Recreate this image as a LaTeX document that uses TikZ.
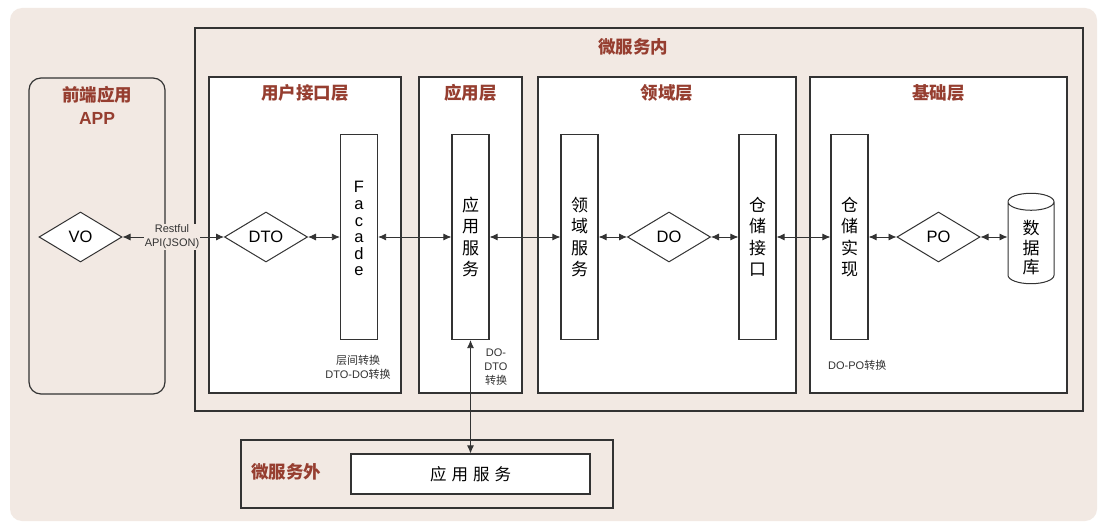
\documentclass[tikz,border=0pt]{standalone}
\usepackage{fontspec}
\setmainfont{Liberation Sans}
\newfontfamily\cjk{Noto Sans CJK SC}
\usetikzlibrary{shapes.geometric,arrows.meta}
\definecolor{bgpaper}{RGB}{242,233,227}
\definecolor{titlered}{RGB}{150,62,48}
\definecolor{linegray}{RGB}{51,51,51}

\begin{document}
\begin{tikzpicture}[x=1pt, y=-1pt, >={Latex[length=8pt,width=7pt]},
    box/.style={draw=linegray, line width=1.2pt},
    layer/.style={box, fill=white},
    title/.style={text=titlered, font=\cjk\bfseries\fontsize{17.5}{23}\selectfont, align=center},
    bar/.style={layer, minimum width=37pt, minimum height=205pt, inner sep=0pt, align=center, font=\cjk\fontsize{17}{21.5}\selectfont},
    obj/.style={diamond, draw=linegray, line width=1pt, fill=white, aspect=1.66, minimum width=83pt, minimum height=50pt, inner sep=0pt, font=\fontsize{16.5}{20}\selectfont},
    note/.style={text=linegray, font=\fontsize{11}{14}\selectfont, align=center, inner sep=1pt},
    link/.style={<->, draw=linegray, line width=0.8pt}]
\useasboundingbox (0,0) rectangle (1106,532);
\fill[white] (0,0) rectangle (1106,532);
\fill[bgpaper, rounded corners=12pt] (10,8) rectangle (1097,521);

% micro service
\draw[box] (195,28) rectangle (1083,411);
\node[title] (inside) at (633,47) {微服务内};
\draw[box, rounded corners=12pt] (29,78) rectangle (165,394);
\node[title] (front) at (97,105) {前端应用\\{\rmfamily APP}};
\foreach \l/\r/\name[count=\i] in {209/401/用户接口层, 419/522/应用层, 538/796/领域层, 810/1067/基础层} {
    \draw[layer] (\l,77) rectangle (\r,393);
    \node[title] (layer\i) at ({(\l+\r)/2},93) {\name};
}

% bars
\node[bar, font=\fontsize{16.5}{16.6}\selectfont] (facade) at (359,237) {F\\a\\c\\a\\d\\e\\~};
\node[bar] (app) at (470.5,237) {应\\用\\服\\务};
\node[bar] (dsvc) at (579.5,237) {领\\域\\服\\务};
\node[bar] (repo) at (757.5,237) {仓\\储\\接\\口};
\node[bar] (impl) at (849.5,237) {仓\\储\\实\\现};

% objects
\node[obj] (vo) at (80.5,237) {VO};
\node[obj] (dto) at (266,237) {DTO};
\node[obj] (dobj) at (669,237) {DO};
\node[obj] (po) at (938.5,237) {PO};
\node[cylinder, shape border rotate=90, aspect=1, draw=linegray, line width=1pt, fill=white,
    minimum width=46pt, minimum height=82pt, inner sep=0pt, align=center,
    font=\cjk\fontsize{17}{19.5}\selectfont] (db) at (1031,243) {\rule{0pt}{24pt}数\\据\\库};

% outside
\draw[box] (241,440) rectangle (613,508);
\node[title] (outside) at (286,472) {微服务外};
\node[layer, minimum width=239pt, minimum height=40pt, font=\cjk\fontsize{16.5}{20}\selectfont] (extapp) at (470.5,474)
    {应\hspace{5pt}用\hspace{5pt}服\hspace{5pt}务};

% links
\node[note, fill=bgpaper] (rest) at (172,237) {Restful\\API(JSON)};
\draw[->, draw=linegray, line width=0.8pt] (rest) -- (vo);
\draw[->, draw=linegray, line width=0.8pt] (rest) -- (dto);
\foreach \a/\b in {dto/facade, facade/app, app/dsvc, dsvc/dobj, dobj/repo, repo/impl, impl/po} {
    \draw[link] (\a) -- (\b);
}
\draw[link] (po) -- (po -| db.west);
\draw[link] (app) -- (extapp);

% notes
\node[note] (swap1) at (358,367) {{\cjk 层间转换}\\DTO-DO{\cjk 转换}};
\node[note] (swap2) at (496,367) {DO-\\DTO\\{\cjk 转换}};
\node[note, anchor=west] (swap3) at (827,365) {DO-PO{\cjk 转换}};
\end{tikzpicture}
\end{document}
